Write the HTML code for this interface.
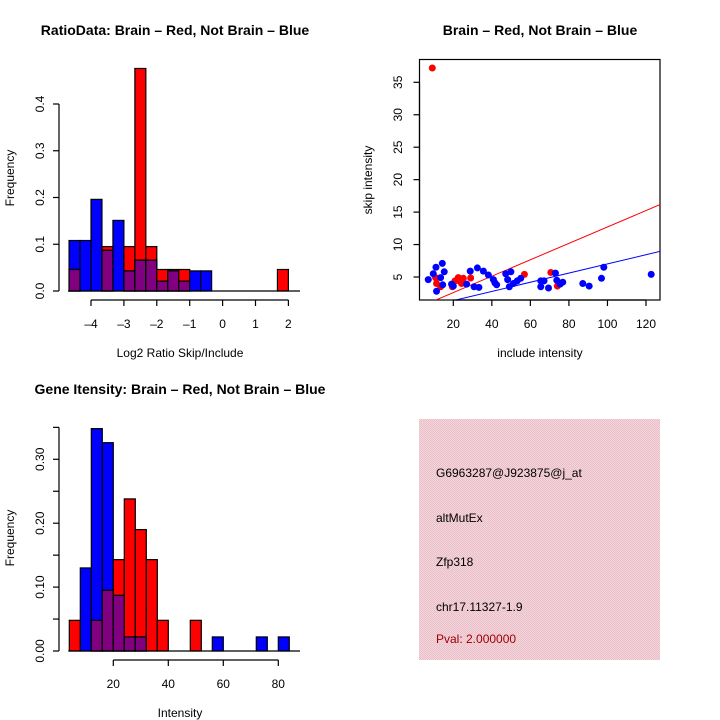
<!DOCTYPE html>
<html><head><meta charset="utf-8"><style>
body{margin:0;background:#fff}
svg{display:block;font-family:"Liberation Sans",sans-serif}
</style></head><body>
<svg id="c" width="720" height="720" viewBox="0 0 720 720">
<defs><pattern id="hatch" width="2" height="2" patternUnits="userSpaceOnUse"><rect width="2" height="2" fill="#e8dadd"/><rect width="1" height="1" fill="#f5bac8"/><rect x="1" y="1" width="1" height="1" fill="#f5bac8"/></pattern></defs>
<text x="175" y="35" text-anchor="middle" font-size="14" font-weight="bold">RatioData: Brain – Red, Not Brain – Blue</text>
<text x="540" y="35" text-anchor="middle" font-size="14" font-weight="bold">Brain – Red, Not Brain – Blue</text>
<text x="180" y="394" text-anchor="middle" font-size="14" font-weight="bold">Gene Itensity: Brain – Red, Not Brain – Blue</text>
<text x="180" y="357" text-anchor="middle" font-size="12">Log2 Ratio Skip/Include</text>
<text transform="translate(14,178) rotate(-90)" text-anchor="middle" font-size="12">Frequency</text>
<text x="540" y="357" text-anchor="middle" font-size="12">include intensity</text>
<text transform="translate(372,180) rotate(-90)" text-anchor="middle" font-size="12">skip intensity</text>
<text x="180" y="717" text-anchor="middle" font-size="12">Intensity</text>
<text transform="translate(14,538) rotate(-90)" text-anchor="middle" font-size="12">Frequency</text>
<g>
<rect x="419" y="419" width="241" height="241" fill="url(#hatch)"/>
<text x="436" y="477" font-size="12">G6963287@J923875@j_at</text>
<text x="436" y="522" font-size="12">altMutEx</text>
<text x="436" y="566" font-size="12">Zfp318</text>
<text x="436" y="611" font-size="12">chr17.11327-1.9</text>
<text x="436" y="643" font-size="12" fill="#a00000">Pval: 2.000000</text>
</g>
</svg>
<script>
// Ratio histogram
const ratioBinStart = -4.6667, ratioBinWidth = 1/3;
const ratioRed  = [0.046,0,0,0.095,0,0.095,0.476,0.095,0.046,0.046,0.046,0,0,0,0,0,0,0,0,0.046];
const ratioBlue = [0.108,0.108,0.196,0.087,0.151,0.043,0.066,0.066,0.021,0.043,0.021,0.043,0.043,0,0,0,0,0,0,0];
const ratioXTicks = [-4,-3,-2,-1,0,1,2];
const ratioYTicks = [0,0.1,0.2,0.3,0.4];
const ratioYLabels = ["0.0","0.1","0.2","0.3","0.4"];
// Intensity histogram
const intBinStart = 4, intBinWidth = 4;
const intRed  = [0.048,0,0.048,0.095,0.143,0.238,0.19,0.143,0.048,0,0,0.048,0,0,0,0,0,0,0,0];
const intBlue = [0,0.13,0.348,0.326,0.087,0.022,0.022,0,0,0,0,0,0,0.022,0,0,0,0.022,0,0.022];
const intXTicks = [20,40,60,80];
const intYTicks = [0,0.05,0.1,0.15,0.2,0.25,0.3,0.35];
const intYLabels = ["0.00","","0.10","","0.20","","0.30",""];
// Scatter
const redX = [9.1,10.8,11.3,13.4,19.5,20.9,22.6,23.5,25.2,24.3,29,56.9,70.6,74];
const redY = [37.2,4.9,4.0,3.5,3.5,4.4,4.9,4.3,4.8,4.0,4.85,5.4,5.7,3.6];
const blueX = [7.0,9.6,11.0,14.3,15.3,13.4,14.5,11.3,19.1,20,26.9,28.8,32.5,30.8,33.3,35.6,38.2,40.8,41.6,42.5,47.2,49.9,48.2,49.1,51.2,53.2,55,65.4,67.1,65.4,69.4,73,73.7,75.4,76.8,87.2,90.5,96.9,98.1,122.7];
const blueY = [4.6,5.5,6.5,7.1,5.8,4.9,3.8,2.8,3.9,3.6,3.9,5.9,6.4,3.5,3.4,5.9,5.3,4.6,4.1,3.8,5.5,5.8,4.6,3.5,4.0,4.4,4.8,4.4,4.4,3.5,3.3,5.6,4.5,3.9,4.2,4.0,3.6,4.8,6.5,5.4];
const redFit = [0.07,0.1264];
const blueFit = [-0.05,0.0707];
const scXTicks = [20,40,60,80,100,120];
const scYTicks = [5,10,15,20,25,30,35];

const svg = document.getElementById('c');
const NS = 'http://www.w3.org/2000/svg';
function mk(tag, attrs, parent){const e=document.createElementNS(NS,tag);for(const k in attrs)e.setAttribute(k,attrs[k]);(parent||svg).appendChild(e);return e;}

function hist(g, start, w, red, blue, xs, ys){
  for(let i=0;i<red.length;i++){
    const x0=xs(start+i*w), x1=xs(start+(i+1)*w);
    const r=red[i], b=blue[i];
    const order = r>=b ? [['red',r],['blue',b]] : [['blue',b],['red',r]];
    order.forEach(([col,v])=>{ if(v>0){
      const e=mk('rect',{x:x0,y:ys(v),width:x1-x0,height:ys(0)-ys(v),fill:col,stroke:'#000','stroke-width':1.2},g);
      
      
    }});
    if(r>0&&b>0){const m=Math.min(r,b);
      const e=mk('rect',{x:x0,y:ys(m),width:x1-x0,height:ys(0)-ys(m),fill:'#800080',stroke:'#000','stroke-width':1.2},g);
      
      
    }
  }
}
function yAxis(g, x, ticks, labels, ys, lx){
  const a=mk('line',{x1:x,x2:x,y1:ys(ticks[0]),y2:ys(ticks[ticks.length-1]),stroke:'#000','stroke-width':1.2},g);
  
  
  ticks.forEach((t,i)=>{
    mk('line',{x1:x-6,x2:x,y1:ys(t),y2:ys(t),stroke:'#000','stroke-width':1.2},g);
    if(labels[i]!==''){const tx=mk('text',{transform:`translate(${lx},${ys(t)}) rotate(-90)`,'text-anchor':'middle','font-size':12},g);tx.textContent=labels[i];
      
      }
  });
}
function xAxis(g, y, ticks, labels, xs){
  const a=mk('line',{x1:xs(ticks[0]),x2:xs(ticks[ticks.length-1]),y1:y,y2:y,stroke:'#000','stroke-width':1.2},g);
  
  
  ticks.forEach((t,i)=>{
    mk('line',{x1:xs(t),x2:xs(t),y1:y,y2:y+6,stroke:'#000','stroke-width':1.2},g);
    const tx=mk('text',{x:xs(t),y:y+28,'text-anchor':'middle','font-size':12},g);tx.textContent=labels[i];
    
    
  });
}

// Plot 1
const g1=mk('g',{});


const xs1=v=>91+(v+4)*32.9, ys1=v=>291-v*467.5;
hist(g1, ratioBinStart, ratioBinWidth, ratioRed, ratioBlue, xs1, ys1);
mk('line',{x1:xs1(-4.6667)-1,x2:300,y1:291,y2:291,stroke:'#000','stroke-width':1.2},g1);
yAxis(g1, 59, ratioYTicks, ratioYLabels, ys1, 44);
xAxis(g1, 300, ratioXTicks, ratioXTicks.map(t=>t<0?'–'+(-t):String(t)), xs1);

// Plot 3
const g3=mk('g',{});


const xs3=v=>113.3+(v-20)*2.75, ys3=v=>651-v*639;
hist(g3, intBinStart, intBinWidth, intRed, intBlue, xs3, ys3);
mk('line',{x1:xs3(4)-1,x2:300,y1:651,y2:651,stroke:'#000','stroke-width':1.2},g3);
yAxis(g3, 59, intYTicks, intYLabels, ys3, 44);
xAxis(g3, 660, intXTicks, intXTicks.map(String), xs3);

// Scatter
const g2=mk('g',{});


const xs2=v=>453.3+(v-20)*1.927, ys2=v=>277-(v-5)*6.49;
const frame=mk('rect',{x:419.5,y:59.5,width:240.5,height:240.5,fill:'none',stroke:'#000','stroke-width':1.2},g2);


const clip=mk('clipPath',{id:'scclip'},g2); mk('rect',{x:420,y:60,width:240,height:240},clip);
const gl=mk('g',{'clip-path':'url(#scclip)'},g2);
[[redFit,'red','red-fit-line'],[blueFit,'blue','blue-fit-line']].forEach(([f,col,nm])=>{
  const l=mk('line',{x1:xs2(0),y1:ys2(f[0]),x2:xs2(130),y2:ys2(f[0]+f[1]*130),stroke:col,'stroke-width':1},gl);
  
  
});
redX.forEach((x,i)=>{const c=mk('circle',{cx:xs2(x),cy:ys2(redY[i]),r:3.5,fill:'red'},gl);
  
  });
blueX.forEach((x,i)=>{const c=mk('circle',{cx:xs2(x),cy:ys2(blueY[i]),r:3.5,fill:'blue'},gl);
  
  });
yAxis(g2, 419.5, scYTicks, scYTicks.map(String), ys2, 402);
xAxis(g2, 300, scXTicks, scXTicks.map(String), xs2);
</script>
</body></html>
